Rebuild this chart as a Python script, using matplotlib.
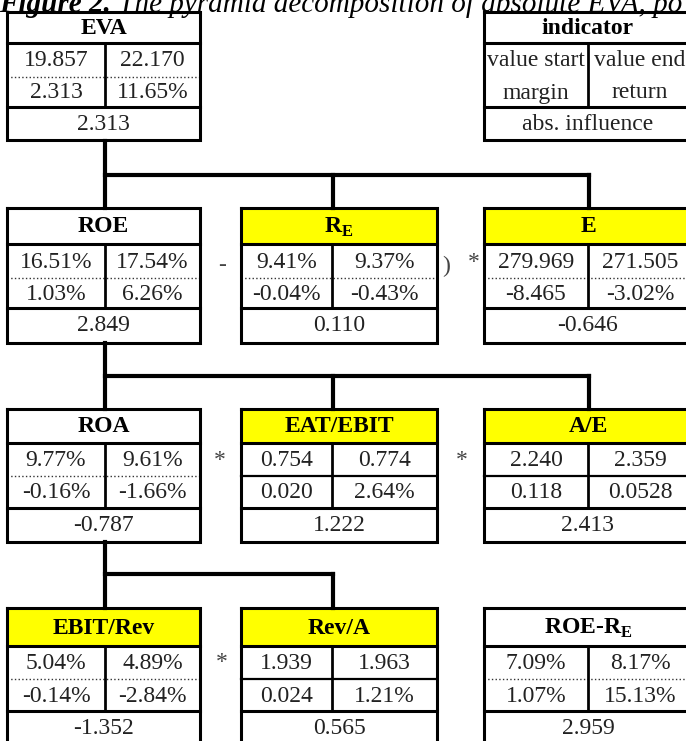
import matplotlib.pyplot as plt
from matplotlib.patches import Rectangle

plt.rcParams['font.family'] = ['Liberation Serif', 'DejaVu Serif']
plt.rcParams['mathtext.fontset'] = 'custom'
plt.rcParams['mathtext.rm'] = 'Liberation Serif'
plt.rcParams['mathtext.bf'] = 'Liberation Serif:bold'

# indicator data
names = ["EVA", "ROE", r"R$_\mathbf{E}$", "E", "ROA", "EAT/EBIT", "A/E",
         "EBIT/Rev", "Rev/A", r"ROE-R$_\mathbf{E}$"]
starts = ["19.857", "16.51%", "9.41%", "279.969", "9.77%", "0.754", "2.240",
          "5.04%", "1.939", "7.09%"]
ends = ["22.170", "17.54%", "9.37%", "271.505", "9.61%", "0.774", "2.359",
        "4.89%", "1.963", "8.17%"]
margins = ["2.313", "1.03%", "-0.04%", "-8.465", "-0.16%", "0.020", "0.118",
           "-0.14%", "0.024", "1.07%"]
returns = ["11.65%", "6.26%", "-0.43%", "-3.02%", "-1.66%", "2.64%", "0.0528",
           "-2.84%", "1.21%", "15.13%"]
influences = ["2.313", "2.849", "0.110", "-0.646", "-0.787", "1.222", "2.413",
              "-1.352", "0.565", "2.959"]
highlight = [False, False, True, True, False, True, True, True, True, False]

legend_cells = ["indicator", "value start", "value end", "margin", "return",
                "abs. influence"]

# layout (pixels)
col_x = [(7, 105, 200), (241, 332, 437), (484, 588, 692)]
row_y = [(12, 43, 77, 107, 140), (208, 244, 278, 308, 343),
         (409, 443, 476, 508, 542), (608, 646, 679, 711, 745)]
place = [(0, 0), (1, 0), (1, 1), (1, 2), (2, 0), (2, 1), (2, 2),
         (3, 0), (3, 1), (3, 2)]
mid_style = [':', ':', ':', ':', ':', '-', '-', ':', '-', ':']

fig = plt.figure(figsize=(6.86, 7.41), dpi=100)
ax = fig.add_axes([0, 0, 1, 1])
ax.set_xlim(0, 686)
ax.set_ylim(741, 0)
ax.axis('off')

BLW = 2.2
TXT = '#222222'
FS = 17


def box(r, c, head, a, b, m, ret, infl, fill, mid):
    x0, xd, x1 = col_x[c]
    t, h, d, m2, bt = row_y[r]
    ax.add_patch(Rectangle((x0, t), x1 - x0, h - t, facecolor=fill,
                           edgecolor='none', zorder=1))
    ax.plot([x0, x1, x1, x0, x0], [t, t, bt, bt, t], color='black', lw=BLW,
            solid_joinstyle='miter', zorder=3)
    ax.plot([x0, x1], [h, h], color='black', lw=BLW, zorder=3)
    ax.plot([x0, x1], [m2, m2], color='black', lw=BLW, zorder=3)
    ax.plot([xd, xd], [h, m2], color='black', lw=BLW * 0.9, zorder=3)
    if mid == ':':
        ax.plot([x0, x1], [d, d], color='#333333', lw=1.0, ls=':', zorder=2)
    elif mid == '-':
        ax.plot([x0, x1], [d, d], color='black', lw=1.6, zorder=2)
    cx = (x0 + x1) / 2
    ax.text(cx, (t + h) / 2 + 1, head, ha='center', va='center',
            fontsize=FS, fontweight='bold', color='black')
    ax.text((x0 + xd) / 2, (h + d) / 2 + 1, a, ha='center', va='center',
            fontsize=FS, color=TXT)
    ax.text((xd + x1) / 2, (h + d) / 2 + 1, b, ha='center', va='center',
            fontsize=FS, color=TXT)
    ax.text((x0 + xd) / 2, (d + m2) / 2 + 1, m, ha='center', va='center',
            fontsize=FS, color=TXT)
    ax.text((xd + x1) / 2, (d + m2) / 2 + 1, ret, ha='center', va='center',
            fontsize=FS, color=TXT)
    ax.text(cx, (m2 + min(bt, m2 + 33)) / 2 + 1, infl, ha='center',
            va='center', fontsize=FS, color=TXT)


for i in range(len(names)):
    r, c = place[i]
    box(r, c, names[i], starts[i], ends[i], margins[i], returns[i],
        influences[i], '#ffff00' if highlight[i] else 'white', mid_style[i])

# legend box
box(0, 2, *legend_cells, 'white', None)

# connectors
CLW = 3.0
def conn(top, yb, ybar, targets):
    ax.plot([105, 105], [top, yb], color='black', lw=CLW, zorder=4)
    ax.plot([105, targets[-1]], [ybar, ybar], color='black', lw=CLW,
            solid_capstyle='projecting', zorder=4)
    for tx in targets:
        ax.plot([tx, tx], [ybar, yb], color='black', lw=CLW, zorder=4)

conn(141, 208, 175, [333, 589])
conn(343, 409, 376, [333, 589])
conn(542, 608, 574, [333])

# operators
ops = [(222, 266, '-'), (446, 266, ')'), (474, 262, '*'),
       (220, 460, '*'), (462, 460, '*'), (222, 663, '*')]
for x, y, s in ops:
    ax.text(x, y, s, ha='center', va='center', fontsize=FS, color='#444444')

# title (cut off at top in the reference)
t1 = ax.text(-1, 12, "Figure 2.", fontsize=21, fontweight='bold',
             fontstyle='italic', va='baseline', ha='left')
fig.canvas.draw()
bb = t1.get_window_extent().transformed(ax.transData.inverted())
ax.text(bb.x1, 12, " The pyramid decomposition of absolute EVA, po",
        fontsize=21, fontstyle='italic', va='baseline', ha='left')

fig.savefig('out.png', dpi=100)
